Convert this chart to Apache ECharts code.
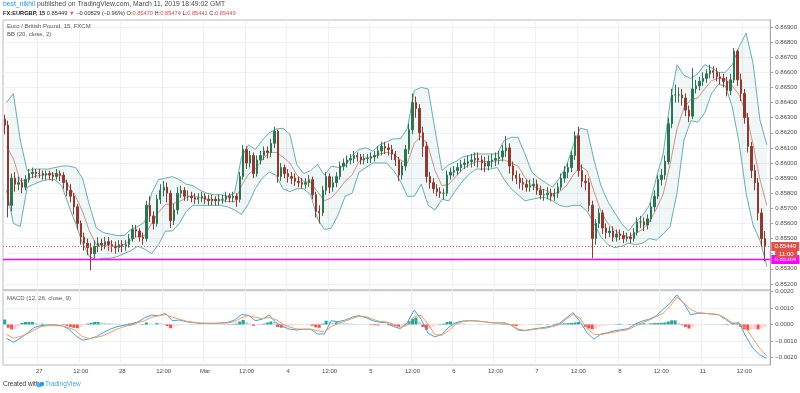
<!DOCTYPE html>
<html><head><meta charset="utf-8">
<script src="https://cdn.jsdelivr.net/npm/echarts@6/dist/echarts.min.js"></script>
<style>html,body{margin:0;padding:0;background:#fff}#c{width:800px;height:393px}</style>
</head><body><div id="c"></div>
<script>
// ---------- axis structure ----------
const dayLabels = ['26','27','28','Mar','4','5','6','7','8','11'];
const firstDayStartHour = 14;   // Feb 26 starts at 14:00
const lastDayHourCount = 20;    // Mar 11 slots 00:00..19:00
const priceTicks = [0.852,0.853,0.854,0.855,0.856,0.857,0.858,0.859,0.860,0.861,0.862,0.863,0.864,0.865,0.866,0.867,0.868,0.869];
const macdTicks = [-0.002,-0.001,0,0.001,0.002];
const lastPrice = 0.85449;
const alertLevel = 0.85364;
const countdown = '11:00';

// ---------- hourly candles (EURGBP) ----------
const opens = [0.8629,0.8625,0.8572,0.8590,0.8586,0.8587,0.8584,0.8589,0.8593,0.8594,
0.8593,0.8593,0.8592,0.8593,0.8592,0.8591,0.8593,0.8592,0.8587,0.8582,
0.8578,0.8571,0.8560,0.8551,0.8547,0.8544,0.8540,0.8545,0.8547,0.8546,
0.8548,0.8546,0.8545,0.8544,0.8546,0.8545,0.8546,0.8550,0.8556,0.8555,
0.8551,0.8550,0.8572,0.8565,0.8560,0.8576,0.8582,0.8584,0.8580,0.8562,
0.8569,0.8580,0.8582,0.8578,0.8578,0.8577,0.8576,0.8577,0.8578,0.8576,
0.8575,0.8576,0.8575,0.8576,0.8576,0.8578,0.8577,0.8578,0.8576,0.8591,
0.8609,0.8600,0.8605,0.8593,0.8602,0.8605,0.8608,0.8607,0.8613,0.8621,
0.8591,0.8597,0.8593,0.8591,0.8590,0.8588,0.8587,0.8586,0.8587,0.8589,
0.8579,0.8568,0.8567,0.8582,0.8591,0.8584,0.8587,0.8591,0.8598,0.8600,
0.8602,0.8603,0.8605,0.8604,0.8602,0.8603,0.8603,0.8604,0.8605,0.8608,
0.8611,0.8610,0.8609,0.8606,0.8602,0.8592,0.8598,0.8609,0.8622,0.8640,
0.8636,0.8620,0.8611,0.8591,0.8587,0.8583,0.8581,0.8580,0.8580,0.8592,
0.8594,0.8595,0.8597,0.8599,0.8600,0.8601,0.8602,0.8603,0.8602,0.8600,
0.8598,0.8601,0.8602,0.8603,0.8604,0.8608,0.8610,0.8598,0.8592,0.8590,
0.8587,0.8586,0.8584,0.8585,0.8586,0.8582,0.8579,0.8579,0.8580,0.8578,
0.8580,0.8584,0.8590,0.8594,0.8597,0.8605,0.8618,0.8595,0.8588,0.8587,
0.8572,0.8550,0.8560,0.8567,0.8557,0.8554,0.8555,0.8551,0.8553,0.8552,
0.8550,0.8551,0.8550,0.8554,0.8561,0.8561,0.8559,0.8563,0.8571,0.8578,
0.8589,0.8592,0.8601,0.8626,0.8645,0.8645,0.8645,0.8643,0.8635,0.8631,
0.8649,0.8651,0.8654,0.8656,0.8659,0.8661,0.8660,0.8657,0.8656,0.8654,
0.8648,0.8655,0.8674,0.8655,0.8646,0.8630,0.8611,0.8595,0.8587,0.8567,0.8550];
const closes = [0.8625,0.8572,0.8590,0.8586,0.8587,0.8584,0.8589,0.8593,0.8594,0.8593,
0.8593,0.8592,0.8593,0.8592,0.8591,0.8593,0.8592,0.8587,0.8582,0.8578,
0.8571,0.8560,0.8551,0.8547,0.8544,0.8540,0.8545,0.8547,0.8546,0.8548,
0.8546,0.8545,0.8544,0.8546,0.8545,0.8546,0.8550,0.8556,0.8555,0.8551,
0.8550,0.8572,0.8565,0.8560,0.8576,0.8582,0.8584,0.8580,0.8562,0.8569,
0.8580,0.8582,0.8578,0.8578,0.8577,0.8576,0.8577,0.8578,0.8576,0.8575,
0.8576,0.8575,0.8576,0.8576,0.8578,0.8577,0.8578,0.8576,0.8591,0.8609,
0.8600,0.8605,0.8593,0.8602,0.8605,0.8608,0.8607,0.8613,0.8621,0.8591,
0.8597,0.8593,0.8591,0.8590,0.8588,0.8587,0.8586,0.8587,0.8589,0.8579,
0.8568,0.8567,0.8582,0.8591,0.8584,0.8587,0.8591,0.8598,0.8600,0.8602,
0.8603,0.8605,0.8604,0.8602,0.8603,0.8603,0.8604,0.8605,0.8608,0.8611,
0.8610,0.8609,0.8606,0.8602,0.8592,0.8598,0.8609,0.8622,0.8640,0.8636,
0.8620,0.8611,0.8591,0.8587,0.8583,0.8581,0.8580,0.8580,0.8592,0.8594,
0.8595,0.8597,0.8599,0.8600,0.8601,0.8602,0.8603,0.8602,0.8600,0.8598,
0.8601,0.8602,0.8603,0.8604,0.8608,0.8610,0.8598,0.8592,0.8590,0.8587,
0.8586,0.8584,0.8585,0.8586,0.8582,0.8579,0.8579,0.8580,0.8578,0.8580,
0.8584,0.8590,0.8594,0.8597,0.8605,0.8618,0.8595,0.8588,0.8587,0.8572,
0.8550,0.8560,0.8567,0.8557,0.8554,0.8555,0.8551,0.8553,0.8552,0.8550,
0.8551,0.8550,0.8554,0.8561,0.8561,0.8559,0.8563,0.8571,0.8578,0.8589,
0.8592,0.8601,0.8626,0.8645,0.8645,0.8645,0.8643,0.8635,0.8631,0.8649,
0.8651,0.8654,0.8656,0.8659,0.8661,0.8660,0.8657,0.8656,0.8654,0.8648,
0.8655,0.8674,0.8655,0.8646,0.8630,0.8611,0.8595,0.8587,0.8567,0.8550,0.85449];
const lows = [0.8619,0.8564,0.8568,0.8581,0.8582,0.8580,0.8582,0.8587,0.8590,0.8590,
0.8590,0.8589,0.8589,0.8589,0.8588,0.8589,0.8588,0.8583,0.8578,0.8574,
0.8566,0.8556,0.8546,0.8542,0.8539,0.8529,0.8537,0.8541,0.8542,0.8543,
0.8542,0.8541,0.8540,0.8541,0.8541,0.8542,0.8544,0.8548,0.8551,0.8548,
0.8546,0.8548,0.8561,0.8556,0.8558,0.8573,0.8578,0.8574,0.8557,0.8559,
0.8566,0.8577,0.8575,0.8575,0.8574,0.8573,0.8573,0.8574,0.8573,0.8572,
0.8572,0.8572,0.8572,0.8573,0.8574,0.8574,0.8574,0.8571,0.8574,0.8589,
0.8596,0.8597,0.8590,0.8591,0.8599,0.8602,0.8603,0.8604,0.8610,0.8587,
0.8588,0.8590,0.8587,0.8586,0.8585,0.8584,0.8583,0.8583,0.8584,0.8576,
0.8564,0.8560,0.8565,0.8579,0.8580,0.8581,0.8584,0.8589,0.8595,0.8597,
0.8599,0.8600,0.8601,0.8599,0.8599,0.8600,0.8600,0.8601,0.8603,0.8605,
0.8606,0.8605,0.8602,0.8598,0.8588,0.8589,0.8595,0.8606,0.8619,0.8630,
0.8615,0.8604,0.8587,0.8583,0.8580,0.8578,0.8577,0.8576,0.8578,0.8589,
0.8591,0.8592,0.8594,0.8596,0.8597,0.8597,0.8598,0.8597,0.8595,0.8594,
0.8595,0.8597,0.8598,0.8599,0.8601,0.8604,0.8593,0.8588,0.8586,0.8583,
0.8582,0.8581,0.8581,0.8582,0.8579,0.8576,0.8575,0.8576,0.8575,0.8575,
0.8577,0.8582,0.8587,0.8590,0.8594,0.8602,0.8591,0.8584,0.8582,0.8568,
0.8537,0.8546,0.8557,0.8553,0.8550,0.8551,0.8548,0.8548,0.8549,0.8547,
0.8548,0.8547,0.8548,0.8552,0.8557,0.8555,0.8556,0.8561,0.8568,0.8576,
0.8585,0.8589,0.8599,0.8623,0.8640,0.8640,0.8638,0.8631,0.8627,0.8629,
0.8646,0.8648,0.8651,0.8653,0.8656,0.8656,0.8654,0.8652,0.8650,0.8644,
0.8645,0.8653,0.8651,0.8641,0.8626,0.8607,0.8590,0.8582,0.8562,0.8545,0.8535];
const highs = [0.8632,0.8628,0.8593,0.8594,0.8591,0.8590,0.8592,0.8596,0.8597,0.8596,
0.8596,0.8595,0.8595,0.8595,0.8594,0.8596,0.8595,0.8594,0.8589,0.8586,
0.8580,0.8573,0.8562,0.8554,0.8550,0.8547,0.8549,0.8551,0.8550,0.8551,
0.8551,0.8549,0.8548,0.8549,0.8549,0.8549,0.8553,0.8559,0.8559,0.8557,
0.8554,0.8575,0.8578,0.8568,0.8579,0.8586,0.8588,0.8587,0.8582,0.8573,
0.8584,0.8585,0.8584,0.8582,0.8581,0.8580,0.8580,0.8581,0.8580,0.8579,
0.8579,0.8578,0.8579,0.8579,0.8581,0.8580,0.8581,0.8580,0.8594,0.8612,
0.8611,0.8608,0.8607,0.8605,0.8608,0.8611,0.8611,0.8616,0.8624,0.8622,
0.8600,0.8599,0.8596,0.8594,0.8593,0.8591,0.8590,0.8590,0.8592,0.8591,
0.8581,0.8572,0.8585,0.8594,0.8593,0.8591,0.8594,0.8601,0.8603,0.8605,
0.8606,0.8608,0.8607,0.8606,0.8606,0.8606,0.8607,0.8608,0.8611,0.8614,
0.8614,0.8613,0.8612,0.8608,0.8604,0.8601,0.8612,0.8626,0.8646,0.8644,
0.8639,0.8624,0.8614,0.8594,0.8590,0.8586,0.8584,0.8583,0.8595,0.8597,
0.8598,0.8600,0.8602,0.8603,0.8605,0.8606,0.8607,0.8607,0.8605,0.8604,
0.8605,0.8606,0.8607,0.8608,0.8612,0.8618,0.8613,0.8601,0.8595,0.8593,
0.8590,0.8589,0.8589,0.8590,0.8589,0.8585,0.8583,0.8584,0.8583,0.8583,
0.8587,0.8593,0.8598,0.8600,0.8608,0.8621,0.8624,0.8599,0.8592,0.8590,
0.8575,0.8563,0.8570,0.8569,0.8560,0.8558,0.8558,0.8556,0.8556,0.8555,
0.8554,0.8554,0.8557,0.8564,0.8565,0.8564,0.8566,0.8574,0.8582,0.8592,
0.8596,0.8605,0.8630,0.8649,0.8652,0.8650,0.8649,0.8646,0.8638,0.8663,
0.8655,0.8657,0.8660,0.8662,0.8665,0.8664,0.8663,0.8660,0.8659,0.8657,
0.8659,0.8676,0.8675,0.8659,0.8649,0.8633,0.8614,0.8599,0.8590,0.8570,0.8555];

// ---------- Bollinger Bands (20, close, 2), read every 2 hours ----------
const bbUpper = [0.8640,0.8646,0.8615,0.8595,0.8596,0.8596,0.8596,0.8597,0.8598,0.8598,
0.8597,0.8590,0.8572,0.8557,0.8554,0.8553,0.8552,0.8552,0.8556,0.8558,
0.8561,0.8580,0.8589,0.8590,0.8591,0.8589,0.8586,0.8585,0.8582,0.8580,
0.8579,0.8579,0.8578,0.8580,0.8604,0.8612,0.8609,0.8615,0.8620,0.86225,
0.8623,0.8619,0.8599,0.8593,0.8595,0.8599,0.8592,0.8598,0.8597,0.8598,
0.8605,0.8609,0.8610,0.8608,0.8612,0.8614,0.8616,0.8616,0.8623,0.8648,
0.8650,0.8649,0.8622,0.8595,0.8599,0.8601,0.8604,0.8605,0.8606,0.8606,
0.8606,0.8606,0.8615,0.8617,0.8617,0.8606,0.8594,0.8590,0.8587,0.8584,
0.8590,0.8598,0.8612,0.8623,0.8622,0.8602,0.8585,0.85745,0.8567,0.8560,
0.8555,0.8561,0.8565,0.8572,0.8590,0.8606,0.8640,0.8665,0.8658,0.8656,
0.8659,0.8665,0.8663,0.8660,0.8660,0.8665,0.8677,0.8686,0.8666,0.86285,0.8612];
const bbLower = [0.8582,0.8560,0.8558,0.8584,0.8586,0.8588,0.8589,0.8589,0.8585,0.8572,
0.8560,0.8547,0.8538,0.8536,0.8537,0.8537,0.8538,0.8540,0.8542,0.8545,
0.8543,0.8540,0.8546,0.8555,0.8555,0.8560,0.8568,0.8572,0.8572,0.8572,
0.8572,0.8572,0.8571,0.8569,0.8566,0.8573,0.8583,0.8590,0.8594,0.8592,
0.8583,0.8581,0.8583,0.8583,0.8579,0.8563,0.8556,0.8557,0.8566,0.8578,
0.8580,0.8594,0.8597,0.8600,0.8600,0.8600,0.8595,0.8588,0.8578,0.8578,
0.8586,0.8572,0.8569,0.8576,0.8575,0.8582,0.8588,0.8593,0.8596,0.8596,
0.8596,0.8597,0.8589,0.8583,0.8579,0.8575,0.8576,0.8577,0.8577,0.8575,
0.8572,0.8571,0.8572,0.8572,0.8568,0.8560,0.8551,0.8546,0.8544,0.8545,
0.8547,0.8546,0.8547,0.8550,0.8549,0.8553,0.8558,0.8580,0.8615,0.8628,
0.8627,0.8633,0.8646,0.8652,0.8651,0.8637,0.8613,0.8580,0.8559,0.8549,0.85315];
const bbBasis = [0.8611,0.8603,0.8588,0.85895,0.8591,0.8592,0.85925,0.8593,0.85915,0.8585,
0.8578,0.8568,0.8555,0.8546,0.85455,0.8545,0.8545,0.8546,0.8549,0.85515,
0.8552,0.8560,0.85675,0.85725,0.8573,0.85745,0.8577,0.85785,0.8577,0.8576,
0.85755,0.85755,0.85745,0.85745,0.8585,0.85925,0.8596,0.8602,0.8607,0.8607,
0.8604,0.8600,0.8592,0.8588,0.8587,0.8581,0.8575,0.8577,0.8582,0.8588,
0.8592,0.8601,0.86035,0.8604,0.8606,0.8607,0.8606,0.8602,0.8600,0.8613,
0.8618,0.8611,0.8595,0.8585,0.8586,0.8591,0.8596,0.8599,0.8601,0.8601,
0.8601,0.86015,0.8602,0.8600,0.8598,0.85905,0.8585,0.8583,0.8582,0.85795,
0.8581,0.8585,0.8592,0.8598,0.8595,0.8581,0.8568,0.8560,0.85555,0.85525,
0.8551,0.85535,0.8556,0.8561,0.85695,0.85795,0.8599,0.86225,0.86365,0.8642,
0.8643,0.8649,0.86545,0.8656,0.86555,0.8651,0.8645,0.8633,0.86125,0.8589,0.8572];

// ---------- MACD (12, 26, close, 9) ----------
const macdLine = [-0.00084,-0.00109,-0.00084,-0.00054,-0.00019,-0.00007,-0.00003,-0.00003,-0.00007,-0.00027,
-0.00068,-0.00095,-0.00088,-0.00074,-0.00050,-0.00029,-0.00013,-0.00005,0.00003,0.00015,
0.00040,0.00058,0.00052,0.00068,0.00023,0.00027,0.00017,0.00011,0.00007,0.00007,
0.00007,0.00009,0.00013,0.00027,0.00060,0.00056,0.00023,0.00032,0.00058,0.00011,
-0.00013,-0.00029,-0.00034,-0.00029,-0.00029,-0.00058,-0.00058,0.00023,0.00017,0.00027,
0.00044,0.00054,0.00042,0.00023,0.00013,0.00011,-0.00013,-0.00025,0.00011,0.00088,
0.00032,-0.00054,-0.00076,-0.00060,-0.00017,0.00011,0.00021,0.00023,0.00022,0.00017,
0.00011,0.00009,0.00011,-0.00003,-0.00034,-0.00038,-0.00029,-0.00023,-0.00017,-0.00009,
0.00007,0.00040,0.00072,0.00017,-0.00050,-0.00090,-0.00058,-0.00050,-0.00038,-0.00032,
-0.00025,0.00003,0.00021,0.00032,0.00052,0.00092,0.00129,0.00180,0.00129,0.00060,
0.00068,0.00068,0.00064,0.00060,0.00032,0.00003,0.00011,-0.00074,-0.00145,-0.00186,-0.00206];
const signalLine = [-0.00060,-0.00084,-0.00074,-0.00058,-0.00034,-0.00013,-0.00007,-0.00007,-0.00009,-0.00019,
-0.00038,-0.00074,-0.00086,-0.00080,-0.00068,-0.00048,-0.00029,-0.00013,-0.00005,0.00011,
0.00023,0.00044,0.00054,0.00060,0.00044,0.00033,0.00020,0.00014,0.00009,0.00007,
0.00007,0.00007,0.00009,0.00017,0.00040,0.00054,0.00044,0.00036,0.00042,0.00030,
0.00002,-0.00017,-0.00027,-0.00029,-0.00029,-0.00038,-0.00046,-0.00013,0.00008,0.00020,
0.00036,0.00050,0.00048,0.00032,0.00019,0.00015,0.00001,-0.00018,-0.00005,0.00048,
0.00056,0.00001,-0.00062,-0.00066,-0.00038,0.00001,0.00017,0.00023,0.00021,0.00017,
0.00012,0.00010,0.00008,-0.00004,-0.00027,-0.00036,-0.00032,-0.00027,-0.00023,-0.00013,
-0.00001,0.00032,0.00060,0.00038,-0.00025,-0.00060,-0.00062,-0.00054,-0.00046,-0.00038,
-0.00032,-0.00009,0.00011,0.00027,0.00048,0.00068,0.00109,0.00166,0.00133,0.00092,
0.00072,0.00068,0.00064,0.00060,0.00040,0.00011,0.00003,-0.00023,-0.00084,-0.00145,-0.00192];
const histogram = [0.00030,-0.00020,-0.00030,-0.00030,-0.00010,0.00010,0.00015,0.00015,0.00015,0.00010,
0.00005,0.00005,0.00003,0.00002,0.00002,0.00002,0.00001,-0.00003,-0.00008,-0.00015,
-0.00020,-0.00023,-0.00015,-0.00005,0.00005,0.00010,0.00015,0.00015,0.00012,0.00010,
0.00008,0.00007,0.00005,0.00004,0.00003,0.00003,0.00005,0.00006,0.00004,0.00002,
0.00003,0.00012,0.00006,0.00002,0.00008,0.00007,0.00003,-0.00010,-0.00023,-0.00012,
-0.00006,-0.00003,-0.00002,-0.00001,0.00001,-0.00001,0.00001,0.00001,-0.00001,0.00001,
0.00001,-0.00001,0.00001,0.00001,0.00001,0.00002,0.00003,0.00005,0.00018,0.00028,
0.00015,0.00005,-0.00008,-0.00005,0.00002,0.00005,0.00012,0.00018,0.00015,-0.00015,
-0.00020,-0.00015,-0.00010,-0.00008,-0.00005,-0.00003,-0.00002,-0.00001,0.00001,-0.00008,
-0.00018,-0.00020,0.00005,0.00023,0.00015,0.00012,0.00013,0.00012,0.00010,0.00008,
0.00006,0.00005,0.00003,0.00002,0.00001,0.00001,-0.00003,-0.00005,-0.00006,-0.00005,
-0.00004,-0.00005,-0.00008,-0.00010,-0.00015,-0.00012,0.00005,0.00020,0.00035,0.00042,
0.00015,-0.00015,-0.00032,-0.00025,-0.00012,-0.00005,0.00003,0.00005,0.00015,0.00018,
0.00013,0.00010,0.00006,0.00005,0.00003,0.00002,0.00001,0.00001,-0.00001,-0.00001,
0.00001,0.00001,0.00001,0.00001,0.00003,0.00006,0.00002,-0.00008,-0.00010,-0.00006,
-0.00003,-0.00001,0.00001,0.00001,0.00002,0.00003,0.00002,0.00002,0.00001,0.00003,
0.00004,0.00005,0.00006,0.00008,0.00009,0.00012,0.00015,0.00002,-0.00015,-0.00025,
-0.00030,-0.00025,-0.00012,-0.00008,-0.00006,-0.00004,-0.00003,0.00003,0.00004,0.00003,
0.00002,0.00002,0.00003,0.00005,0.00006,0.00007,0.00006,0.00007,0.00008,0.00009,
0.00010,0.00012,0.00018,0.00025,0.00025,0.00010,-0.00005,-0.00015,-0.00025,-0.00015,
-0.00005,-0.00002,-0.00001,0.00001,0.00001,0.00001,0.00001,-0.00001,-0.00002,-0.00004,
-0.00003,0.00005,0.00006,-0.00015,-0.00030,-0.00035,-0.00032,-0.00028,-0.00030,-0.00025,-0.00015];

// ---------- build categories ----------
const hours = [];
dayLabels.forEach((d, di) => {
  for (let h = 0; h < 24; h++) {
    if (di === 0 && h < firstDayStartHour) continue;
    if (di === dayLabels.length - 1 && h >= lastDayHourCount) continue;
    hours.push(h === 0 ? d : (h === 12 ? '12:00' : d + ' ' + (h < 10 ? '0' + h : h) + ':00'));
  }
});
const hours2 = hours.filter((_, k) => k % 2 === 0);
const isMajor = (i, v) => String(v).indexOf(' ') < 0;

const FONT = 'Liberation Sans, Arial, sans-serif';
const GRIDC = '#eef0f3';
const AXC = '#a3a6af';
const TXT = '#4a4a4a';
const candleData = opens.map((o, k) => [o, closes[k], lows[k], highs[k]]);

// price levels: [value, line colour, dashed?, width, label colour, extra label] (drawn in order)
const levels = [
  [alertLevel, '#ff00ff', 0, 1.6, '#ff00ff', ''],
  [lastPrice, '#ef5350', 1, 1, '#e0514b', countdown]
];

const chart = echarts.init(document.getElementById('c'), null, {renderer: 'canvas'});
chart.setOption({
  animation: false,
  backgroundColor: '#ffffff',
  grid: [
    {left: 3, right: 29, top: 20, height: 270, show: true, borderColor: '#b8bbc3', borderWidth: 1},
    {left: 3, right: 29, top: 290, height: 75, show: true, borderColor: '#b8bbc3', borderWidth: 1}
  ],
  xAxis: [
    {gridIndex: 0, type: 'category', data: hours, boundaryGap: true,
     axisLine: {show: false}, axisTick: {show: false}, axisLabel: {show: false},
     splitLine: {show: true, interval: isMajor, lineStyle: {color: GRIDC, width: 1}}},
    {gridIndex: 0, type: 'category', data: hours2, boundaryGap: true, show: false},
    {gridIndex: 1, type: 'category', data: hours, boundaryGap: true,
     axisLine: {show: false}, axisTick: {show: false},
     axisLabel: {interval: isMajor, fontSize: 6, color: TXT, margin: 3, fontFamily: FONT},
     splitLine: {show: true, interval: isMajor, lineStyle: {color: GRIDC, width: 1}}},
    {gridIndex: 1, type: 'category', data: hours2, boundaryGap: true, show: false}
  ],
  yAxis: [
    {gridIndex: 0, type: 'value', position: 'right', min: 0.85160, max: 0.86946, splitNumber: 18,
     axisLine: {show: true, lineStyle: {color: AXC}},
     axisTick: {show: true, length: 3, lineStyle: {color: AXC}, customValues: priceTicks},
     axisLabel: {customValues: priceTicks, formatter: v => v.toFixed(5), fontSize: 6, color: TXT, margin: 5, fontFamily: FONT},
     splitLine: {show: true, lineStyle: {color: GRIDC, width: 1}}},
    {gridIndex: 1, type: 'value', position: 'right', min: -0.00247, max: 0.0021, splitNumber: 5,
     axisLine: {show: true, lineStyle: {color: AXC}},
     axisTick: {show: true, length: 3, lineStyle: {color: AXC}, customValues: macdTicks},
     axisLabel: {customValues: macdTicks, formatter: v => (v < 0 ? '\u2212' : '') + Math.abs(v).toFixed(4), fontSize: 6, color: TXT, margin: 5, fontFamily: FONT},
     splitLine: {show: true, lineStyle: {color: GRIDC, width: 1}}}
  ],
  series: [
    {type: 'custom', name: 'BB fill', xAxisIndex: 1, yAxisIndex: 0, z: 1, silent: true, clip: true,
     data: [[0, bbBasis[0]]],
     renderItem: function (params, api) {
       const pts = [];
       for (let j = 0; j < bbUpper.length; j++) pts.push(api.coord([j, bbUpper[j]]));
       for (let j = bbLower.length - 1; j >= 0; j--) pts.push(api.coord([j, bbLower[j]]));
       return {type: 'polygon', shape: {points: pts}, style: {fill: 'rgba(60,150,145,0.08)'}};
     }},
    {type: 'line', name: 'BB upper', xAxisIndex: 1, yAxisIndex: 0, data: bbUpper, z: 2, silent: true,
     showSymbol: false, lineStyle: {color: '#66b0ab', width: 1}},
    {type: 'line', name: 'BB lower', xAxisIndex: 1, yAxisIndex: 0, data: bbLower, z: 2, silent: true,
     showSymbol: false, lineStyle: {color: '#66b0ab', width: 1}},
    {type: 'line', name: 'BB basis', xAxisIndex: 1, yAxisIndex: 0, data: bbBasis, z: 2, silent: true,
     showSymbol: false, lineStyle: {color: '#c27a72', width: 0.8}},
    {type: 'candlestick', name: 'EURGBP', xAxisIndex: 0, yAxisIndex: 0, data: candleData, z: 3,
     barWidth: '55%',
     itemStyle: {color: '#2f7352', color0: '#8e3a30', borderColor: '#2f7352', borderColor0: '#8e3a30', borderWidth: 1}},
    {type: 'custom', name: 'Levels', xAxisIndex: 0, yAxisIndex: 0, z: 6, silent: true, clip: false,
     data: levels.map(l => [0, l[0]]),
     renderItem: function (params, api) {
       const lv = levels[params.dataIndex];
       const cs = params.coordSys;
       const y = Math.round(api.coord([0, api.value(1)])[1]) + 0.5;
       const xr = cs.x + cs.width;
       const z2 = params.dataIndex * 10;
       const children = [
         {type: 'line', z2: z2, shape: {x1: cs.x, y1: y, x2: xr, y2: y},
          style: {stroke: lv[1], lineWidth: lv[3], lineDash: lv[2] ? [1, 2] : null}},
         {type: 'rect', z2: z2 + 1, shape: {x: xr + 1, y: y - 4.5, width: 28, height: 9}, style: {fill: lv[4]}},
         {type: 'text', z2: z2 + 2, x: xr + 15, y: y, style: {text: lv[0].toFixed(5), fill: '#fff', fontSize: 6, fontFamily: FONT, align: 'center', verticalAlign: 'middle'}}
       ];
       if (lv[5]) {
         children.push({type: 'rect', z2: z2 + 1, shape: {x: xr + 5, y: y + 4.5, width: 22, height: 7}, style: {fill: lv[4]}});
         children.push({type: 'text', z2: z2 + 2, x: xr + 16, y: y + 8, style: {text: lv[5], fill: '#fff', fontSize: 6, fontFamily: FONT, align: 'center', verticalAlign: 'middle'}});
       }
       return {type: 'group', children: children};
     }},
    {type: 'bar', name: 'Histogram', xAxisIndex: 2, yAxisIndex: 1, data: histogram, barCategoryGap: '12%', z: 2,
     itemStyle: {color: function (p) {
       const v = histogram[p.dataIndex];
       const prev = p.dataIndex > 0 ? histogram[p.dataIndex - 1] : v;
       if (v >= 0) return v >= prev ? '#26a69a' : '#b2dfdb';
       return v < prev ? '#ef5350' : '#ffcdd2';
     }}},
    {type: 'line', name: 'MACD', xAxisIndex: 3, yAxisIndex: 1, data: macdLine, z: 3,
     showSymbol: false, lineStyle: {color: '#3ca0f0', width: 1}},
    {type: 'line', name: 'Signal', xAxisIndex: 3, yAxisIndex: 1, data: signalLine, z: 3,
     showSymbol: false, lineStyle: {color: '#fb9a4c', width: 1}}
  ],
  graphic: [
    {type: 'text', left: 3, top: 1, style: {
      text: '{u|best_nikhil} published on TradingView.com, March 11, 2019 18:49:02 GMT',
      rich: {u: {fill: '#2196f3', fontSize: 6.8, fontFamily: FONT}},
      fill: '#4a4a4a', fontSize: 6.8, fontFamily: FONT}},
    {type: 'text', left: 3, top: 10.5, style: {
      text: '{k|FX:EURGBP, 15} 0.85449 {r|\u25BC} \u22120.00829 (\u22120.96%) O:{r|0.85470} H:{r|0.85474} L:{r|0.85441} C:{r|0.85449}',
      rich: {k: {fill: '#222', fontWeight: 'bold', fontSize: 5.7, fontFamily: FONT},
             r: {fill: '#e0484d', fontSize: 5.7, fontFamily: FONT}},
      fill: '#333', fontSize: 5.7, fontFamily: FONT}},
    {type: 'text', left: 7, top: 23, z: 10, style: {text: 'Euro / British Pound, 15, FXCM', fill: '#555', fontSize: 6, fontFamily: FONT}},
    {type: 'text', left: 7, top: 31, z: 10, style: {text: 'BB (20, close, 2)', fill: '#555', fontSize: 6, fontFamily: FONT}},
    {type: 'text', left: 7, top: 295, z: 10, style: {text: 'MACD (12, 26, close, 9)', fill: '#555', fontSize: 6, fontFamily: FONT}},
    {type: 'text', left: 3, top: 381, style: {text: 'Created with', fill: '#333', fontSize: 6.5, fontFamily: FONT}},
    {type: 'circle', shape: {cx: 39, cy: 385, r: 2.5}, style: {fill: '#4fb3ef'}},
    {type: 'circle', shape: {cx: 42, cy: 384, r: 2.2}, style: {fill: '#2196f3'}},
    {type: 'text', left: 45, top: 381, style: {text: 'TradingView', fill: '#3ba3f0', fontSize: 6.5, fontFamily: FONT}}
  ]
});
</script>
</body></html>
